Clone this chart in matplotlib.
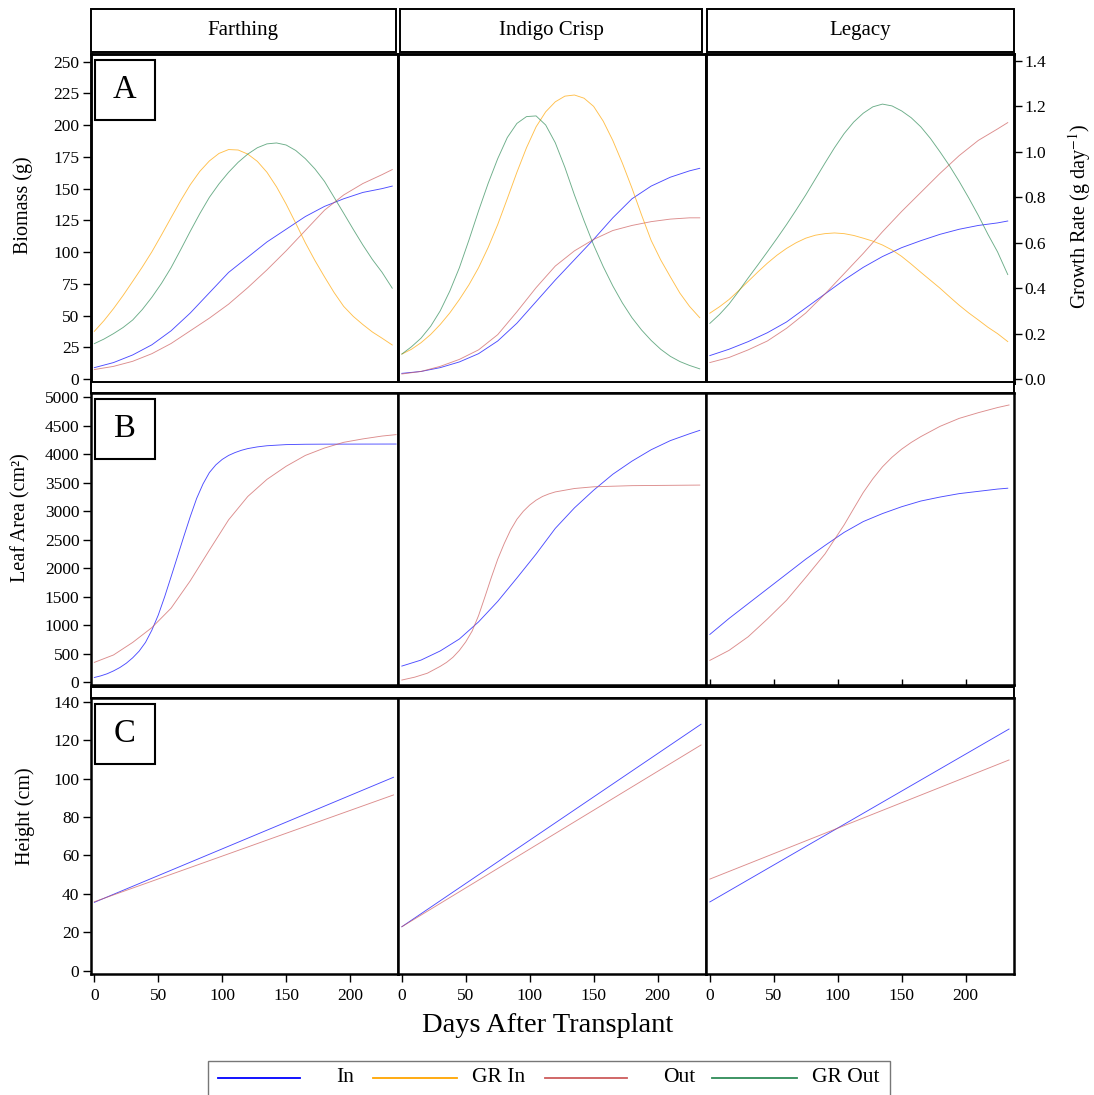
import matplotlib
matplotlib.use("Agg")
import matplotlib.pyplot as plt
from matplotlib.patches import Rectangle
from matplotlib.lines import Line2D

plt.rcParams['font.family'] = ['Liberation Serif', 'DejaVu Serif']
plt.rcParams['mathtext.fontset'] = 'stix'

# ---------------- data ----------------
cultivars = ["Farthing", "Indigo Crisp", "Legacy"]
series_names = ["In", "GR In", "Out", "GR Out"]
colors = {"In": "#0000FF", "GR In": "#FFA500", "Out": "#CD5C5C", "GR Out": "#2E8B57"}

days = [0, 15, 30, 45, 60, 75, 90, 105, 120, 135, 150, 165, 180, 195, 210, 225, 233]

# Biomass (g)
far_bio_in = [9, 13, 19, 27, 38, 52, 68, 84, 96, 108, 118, 128, 136, 142, 147, 150, 152]
far_bio_out = [7.5, 10, 14, 20, 28, 38, 48, 59, 72, 86, 101, 117, 133, 145, 154, 161, 165]
ind_bio_in = [4.5, 6, 9, 13.5, 20, 30, 44, 61, 78, 94, 110, 127, 142, 152, 159, 164, 166]
ind_bio_out = [4, 6, 10, 15.5, 23, 35, 53, 72, 89, 101, 110, 117, 121, 124, 126, 127, 127]
leg_bio_in = [18.5, 23.5, 29.5, 36.5, 45, 56, 67, 78, 88, 96.5, 103.5, 109, 114, 118, 121, 123, 124.5]
leg_bio_out = [13, 17, 23, 30, 40, 52, 67, 83, 99, 116, 132, 147, 162, 176, 188, 197, 202]

# Growth rate (g day-1)
gr_days = [0, 7.5, 15, 22.5, 30, 37.5, 45, 52.5, 60, 67.5, 75, 82.5, 90, 97.5, 105, 112.5,
           120, 127.5, 135, 142.5, 150, 157.5, 165, 172.5, 180, 187.5, 195, 202.5, 210,
           217.5, 225, 233]
far_gr_in = [0.21, 0.257, 0.31, 0.368, 0.43, 0.493, 0.56, 0.634, 0.71, 0.785, 0.855, 0.914,
             0.96, 0.993, 1.01, 1.008, 0.99, 0.958, 0.91, 0.846, 0.77, 0.686, 0.60, 0.522,
             0.45, 0.381, 0.32, 0.276, 0.24, 0.207, 0.18, 0.15]
far_gr_out = [0.156, 0.176, 0.20, 0.227, 0.26, 0.306, 0.36, 0.421, 0.49, 0.569, 0.65, 0.728,
              0.80, 0.859, 0.91, 0.954, 0.99, 1.018, 1.035, 1.039, 1.03, 1.006, 0.97, 0.925,
              0.87, 0.80, 0.73, 0.659, 0.59, 0.526, 0.47, 0.40]
ind_gr_in = [0.11, 0.131, 0.16, 0.196, 0.24, 0.291, 0.35, 0.415, 0.49, 0.579, 0.68, 0.794,
             0.91, 1.018, 1.11, 1.176, 1.22, 1.245, 1.25, 1.236, 1.20, 1.135, 1.05, 0.95,
             0.84, 0.722, 0.61, 0.524, 0.45, 0.378, 0.32, 0.27]
ind_gr_out = [0.11, 0.142, 0.18, 0.232, 0.30, 0.387, 0.49, 0.612, 0.74, 0.861, 0.97, 1.063,
              1.125, 1.155, 1.158, 1.118, 1.04, 0.932, 0.81, 0.697, 0.59, 0.495, 0.41, 0.335,
              0.27, 0.216, 0.17, 0.131, 0.10, 0.077, 0.06, 0.045]
leg_gr_in = [0.29, 0.318, 0.35, 0.389, 0.43, 0.471, 0.51, 0.545, 0.575, 0.600, 0.62, 0.633,
             0.64, 0.643, 0.64, 0.632, 0.62, 0.607, 0.59, 0.568, 0.54, 0.506, 0.47, 0.435,
             0.40, 0.362, 0.325, 0.291, 0.26, 0.228, 0.20, 0.165]
leg_gr_out = [0.245, 0.284, 0.33, 0.386, 0.445, 0.502, 0.56, 0.619, 0.68, 0.744, 0.81, 0.88,
              0.95, 1.018, 1.08, 1.131, 1.17, 1.198, 1.21, 1.202, 1.18, 1.15, 1.11, 1.059,
              1.00, 0.938, 0.87, 0.797, 0.72, 0.637, 0.56, 0.46]

# Leaf area (cm2)
far_la_days = [0, 5, 10, 15, 20, 25, 30, 35, 40, 45, 50, 55, 60, 65, 70, 75, 80, 85, 90, 95,
               100, 105, 110, 115, 120, 127.5, 135, 150, 165, 180, 236]
far_la_in = [85, 113, 150, 200, 260, 335, 430, 546, 700, 915, 1180, 1501, 1850, 2204, 2560,
             2905, 3225, 3480, 3680, 3814, 3910, 3980, 4030, 4070, 4100, 4130, 4150, 4170,
             4176, 4178, 4180]
far_la_out_days = [0, 15, 30, 45, 60, 75, 90, 105, 120, 135, 150, 165, 180, 195, 210, 225, 236]
far_la_out = [350, 480, 700, 960, 1300, 1780, 2320, 2850, 3260, 3560, 3790, 3980, 4110, 4210,
              4270, 4320, 4345]
ind_la_in = [285, 390, 550, 760, 1060, 1420, 1830, 2250, 2700, 3060, 3370, 3650, 3880, 4080,
             4240, 4360, 4420]
ind_la_out_days = [0, 10, 20, 30, 35, 40, 45, 50, 55, 60, 65, 70, 75, 80, 85, 90, 95, 100,
                   105, 110, 115, 120, 135, 150, 180, 233]
ind_la_out = [40, 90, 160, 280, 350, 440, 560, 710, 900, 1170, 1500, 1840, 2160, 2430, 2670,
              2860, 3000, 3110, 3195, 3260, 3305, 3340, 3400, 3430, 3450, 3460]
leg_la_in = [840, 1120, 1380, 1640, 1900, 2160, 2400, 2630, 2820, 2960, 3080, 3180, 3250,
             3310, 3350, 3390, 3405]
leg_la_out_days = [0, 15, 30, 45, 60, 75, 90, 105, 112.5, 120, 127.5, 135, 142.5, 150, 157.5,
                   165, 180, 195, 210, 225, 234]
leg_la_out = [385, 560, 800, 1110, 1440, 1840, 2250, 2760, 3047, 3330, 3571, 3780, 3949, 4090,
              4208, 4310, 4490, 4630, 4730, 4820, 4865]

# Height (cm)
h_days = [0, 234]
far_h_in = [35.6, 100.7]
far_h_out = [35.9, 91.5]
ind_h_in = [22.9, 128.3]
ind_h_out = [22.9, 117.5]
leg_h_in = [35.8, 125.8]
leg_h_out = [47.7, 109.7]

bio = [(far_bio_in, far_bio_out), (ind_bio_in, ind_bio_out), (leg_bio_in, leg_bio_out)]
gr = [(far_gr_in, far_gr_out), (ind_gr_in, ind_gr_out), (leg_gr_in, leg_gr_out)]
la = [((far_la_days, far_la_in), (far_la_out_days, far_la_out)),
      ((days, ind_la_in), (ind_la_out_days, ind_la_out)),
      ((days, leg_la_in), (leg_la_out_days, leg_la_out))]
hts = [(far_h_in, far_h_out), (ind_h_in, ind_h_out), (leg_h_in, leg_h_out)]

x_ticks = [0, 50, 100, 150, 200]
bio_ticks = list(range(0, 251, 25))
gr_ticks = [0.0, 0.2, 0.4, 0.6, 0.8, 1.0, 1.2, 1.4]
la_ticks = list(range(0, 5001, 500))
h_ticks = list(range(0, 141, 20))
panel_letters = ["A", "B", "C"]

# ---------------- layout ----------------
W, H = 1094, 1095
fig = plt.figure(figsize=(W / 100, H / 100), dpi=100)


def ax_px(x0, x1, y0, y1):
    return fig.add_axes([x0 / W, 1 - y1 / H, (x1 - x0) / W, (y1 - y0) / H])


def rect_px(x0, y0, x1, y1, **kw):
    r = Rectangle((x0 / W, 1 - y1 / H), (x1 - x0) / W, (y1 - y0) / H,
                  transform=fig.transFigure, **kw)
    fig.patches.append(r)


cols = [(90.5, 398), (398, 705.5), (706, 1013.5)]
rows = [(54.3, 382.5), (393.3, 685), (698.3, 974)]
XLIM = (-3, 237.5)
GRF = 0.005587
YLIMS = [(-2.7, 255.8), (-47, 5070), (-1.7, 141.8)]

LW = 0.65
ALPHA = 0.7
TICKFS = 12.5

for r, (y0, y1) in enumerate(rows):
    for c, (x0, x1) in enumerate(cols):
        ax = ax_px(x0, x1, y0, y1)
        ax.set_xlim(*XLIM)
        ax.set_ylim(*YLIMS[r])
        for s in ax.spines.values():
            s.set_linewidth(1.8)
            s.set_color("black")
        if r == 0:
            ax.plot(days, bio[c][0], color=colors["In"], lw=LW, alpha=ALPHA)
            ax.plot(days, bio[c][1], color=colors["Out"], lw=LW, alpha=ALPHA)
            ax2 = ax.twinx()
            ax2.set_ylim(YLIMS[0][0] * GRF, YLIMS[0][1] * GRF)
            ax2.plot(gr_days, gr[c][0], color=colors["GR In"], lw=LW, alpha=ALPHA)
            ax2.plot(gr_days, gr[c][1], color=colors["GR Out"], lw=LW, alpha=ALPHA)
            for s in ax2.spines.values():
                s.set_linewidth(1.8)
            if c == 2:
                ax2.set_yticks(gr_ticks)
                ax2.set_yticklabels([f"{v:.1f}" for v in gr_ticks])
                ax2.tick_params(axis='y', direction='out', length=6, width=1,
                                labelsize=TICKFS, pad=2)
            else:
                ax2.set_yticks([])
            ticks = bio_ticks
        elif r == 1:
            (dx1, v1), (dx2, v2) = la[c]
            ax.plot(dx1, v1, color=colors["In"], lw=LW, alpha=ALPHA)
            ax.plot(dx2, v2, color=colors["Out"], lw=LW, alpha=ALPHA)
            ticks = la_ticks
        else:
            ax.plot(h_days, hts[c][0], color=colors["In"], lw=LW, alpha=ALPHA)
            ax.plot(h_days, hts[c][1], color=colors["Out"], lw=LW, alpha=ALPHA)
            ticks = h_ticks
        if c == 0:
            ax.set_yticks(ticks)
            ax.tick_params(axis='y', direction='out', length=6, width=1,
                           labelsize=TICKFS, pad=2)
        else:
            ax.set_yticks([])
        if r == 2:
            ax.set_xticks(x_ticks)
            ax.tick_params(axis='x', direction='out', length=6, width=1,
                           labelsize=TICKFS, pad=4)
        elif r == 1 and c == 2:
            ax.set_xticks(x_ticks)
            ax.tick_params(axis='x', direction='in', length=4, width=1,
                           labelbottom=False)
        else:
            ax.set_xticks([])

# panel letter boxes
for r, (y0, y1) in enumerate(rows):
    bx0, by0 = 94.7, y0 + 5.5
    rect_px(bx0, by0, bx0 + 60, by0 + 60, fill=False, edgecolor="black", lw=1.5)
    fig.text((bx0 + 30) / W, 1 - (by0 + 30) / H, panel_letters[r],
             ha="center", va="center", fontsize=23.5)

# column headers
headers = [(90.5, 396), (400, 702), (707, 1013.5)]
for (hx0, hx1), name in zip(headers, cultivars):
    rect_px(hx0, 8.5, hx1, 51.5, facecolor="white", edgecolor="black", lw=1.4)
    fig.text((hx0 + hx1) / 2 / W, 1 - 31 / H, name, ha="center", va="center",
             fontsize=15)

# empty strips between rows
rect_px(90.5, 382.5, 1013.5, 393.3, facecolor="white", edgecolor="black", lw=1.4)
rect_px(90.5, 686.5, 1013.5, 698.3, facecolor="white", edgecolor="black", lw=1.4)

# axis titles
fig.text(23 / W, 1 - 205 / H, "Biomass (g)", rotation=90, ha="center", va="center", fontsize=14.5)
fig.text(21 / W, 1 - 518 / H, "Leaf Area (cm²)", rotation=90, ha="center", va="center", fontsize=14.5)
fig.text(25 / W, 1 - 816 / H, "Height (cm)", rotation=90, ha="center", va="center", fontsize=14.5)
fig.text(1080 / W, 1 - 217 / H, r"Growth Rate (g day$^{-1}$)", rotation=90,
         ha="center", va="center", fontsize=14.5)
fig.text(548 / W, 1 - 1025 / H, "Days After Transplant", ha="center", va="center", fontsize=20.5)

# legend
rect_px(208, 1061, 890, 1110, fill=False, edgecolor="#777777", lw=1.0)
leg_entries = [("In", 218, 300, 354), ("GR In", 373, 457, 525),
               ("Out", 545, 627, 695), ("GR Out", 712, 797, 880)]
ly = 1 - 1078 / H
for name, lx0, lx1, tx in leg_entries:
    fig.lines.append(Line2D([lx0 / W, lx1 / W], [ly, ly], transform=fig.transFigure,
                            color=colors[name], lw=1.3))
    fig.text(tx / W, ly, name, ha="right", va="center", fontsize=15.5)

fig.savefig("out.png", dpi=100)
